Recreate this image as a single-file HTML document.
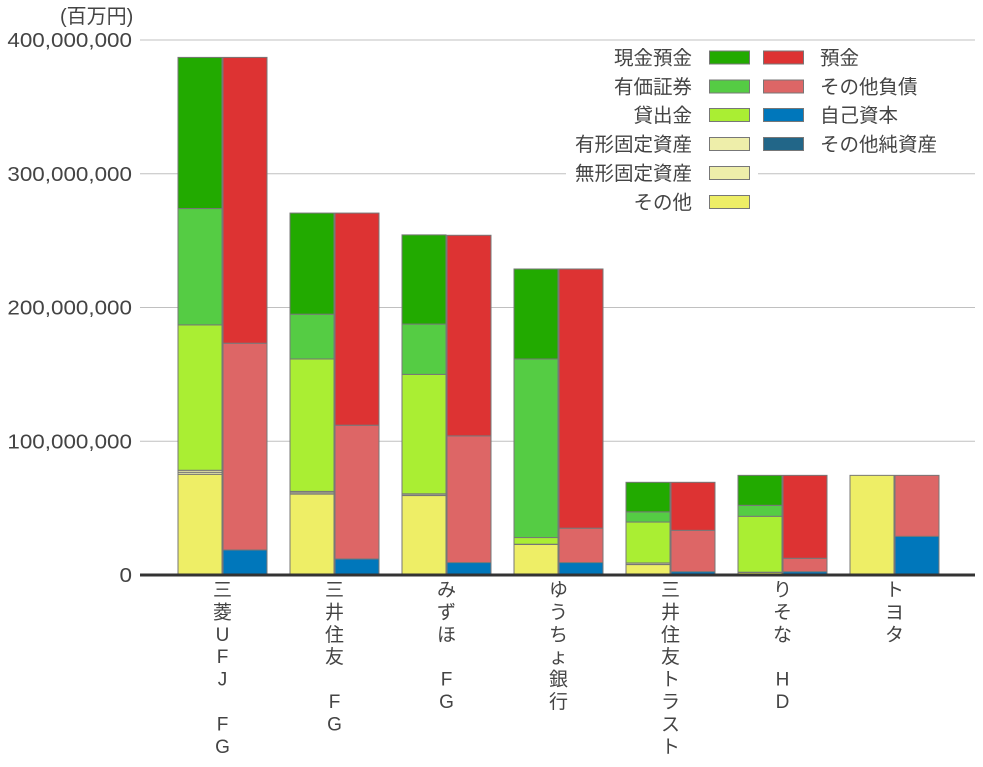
<!DOCTYPE html>
<html><head><meta charset="utf-8">
<style>
body{margin:0;background:#fff;}
svg text{font-family:"Liberation Sans","Noto Sans CJK JP",sans-serif;fill:#444;}
</style></head>
<body>
<svg id="chart" width="983" height="762" xmlns="http://www.w3.org/2000/svg"></svg>
<script>
const categories = ["三菱UFJ FG","三井住友 FG","みずほ FG","ゆうちょ銀行","三井住友トラスト","りそな HD","トヨタ"];
const assetNames = ["その他","無形固定資産","有形固定資産","貸出金","有価証券","現金預金"];
const liabNames = ["自己資本","その他純資産","その他負債","預金"];
// assets (millions of yen), bottom-up: other, intangible, tangible, loans, securities, cash
const assetOther = [75300,60500,59400,22800,7800,1900,74500];
const assetIntangible = [1500,1000,300,100,200,100,0];
const assetTangible = [1500,1000,1000,100,1000,100,0];
const assetLoans = [108700,99000,89300,5000,30600,41800,0];
const assetSecurities = [87000,33500,37600,133500,7600,8200,0];
const assetCash = [113000,75600,66700,67300,22100,22400,0];
// liabilities, bottom-up: equity, other net assets, other liabilities, deposits
const liabEquity = [18700,12000,9300,9300,2500,2500,28900];
const liabOtherNet = [0,0,0,0,0,0,0];
const liabOther = [154600,100000,94700,25700,30900,10000,45600];
const liabDeposits = [213700,158600,150000,193800,35900,62000,0];
const yTicks = [0,100000000,200000000,300000000,400000000];
const yTickLabels = ["0","100,000,000","200,000,000","300,000,000","400,000,000"];

const NS="http://www.w3.org/2000/svg";
const svg=document.getElementById('chart');
function mk(tag,attrs,parent){const e=document.createElementNS(NS,tag);for(const k in attrs)e.setAttribute(k,attrs[k]);(parent||svg).appendChild(e);return e;}
const x0=140,x1=975,yBase=575,yTop=40,yMax=400000;
function y(v){return yBase-(v/yMax)*(yBase-yTop);}
const groupW=112, firstCenter=222.5;
function gx(i){return firstCenter+groupW*i;}

yTicks.forEach((t,i)=>{
  const yy=y(t/1000);
  if(i>0){const g=mk('line',{x1:x0,x2:x1,y1:yy,y2:yy,stroke:'#c0c0c0','stroke-width':1});
  
  }
  const tx=mk('text',{x:132,y:yy+7,'text-anchor':'end','font-size':20});
  tx.textContent=yTickLabels[i];
  
  
  const w=tx.getComputedTextLength();
  if(w>0){tx.setAttribute('textLength',(w*1.12).toFixed(1));tx.setAttribute('lengthAdjust','spacingAndGlyphs');}
});
const unit=mk('text',{x:60,y:23,'font-size':20});
unit.textContent="(百万円)";



const aColors=['#eeee66','#eeeeaa','#eeeeaa','#aaee33','#55cc44','#22aa00'];
const lColors=['#0077bb','#226688','#dd6666','#dd3333'];
const aSeries=[assetOther,assetIntangible,assetTangible,assetLoans,assetSecurities,assetCash];
const lSeries=[liabEquity,liabOtherNet,liabOther,liabDeposits];
const bw=44;
categories.forEach((c,i)=>{
  const cx=gx(i);
  let acc=0;
  aSeries.forEach((s,k)=>{
    const v=s[i]; if(v<=0)return;
    const r=mk('rect',{x:cx-bw-0.5,y:y(acc+v),width:bw,height:y(acc)-y(acc+v),fill:aColors[k],stroke:'#777','stroke-width':1});
    
    
    acc+=v;
  });
  acc=0;
  lSeries.forEach((s,k)=>{
    const v=s[i]; if(v<=0)return;
    const r=mk('rect',{x:cx+0.5,y:y(acc+v),width:bw,height:y(acc)-y(acc+v),fill:lColors[k],stroke:'#777','stroke-width':1});
    
    
    acc+=v;
  });
  const chars=[...c];
  chars.forEach((ch,j)=>{
    if(ch===' ')return;
    const t=mk('text',{x:cx,y:596+j*22.4,'text-anchor':'middle','font-size':19});
    t.textContent=ch;
    
    
  });
});
const ax=mk('line',{x1:x0,x2:x1,y1:yBase,y2:yBase,stroke:'#333','stroke-width':3});



const leftLabels=["現金預金","有価証券","貸出金","有形固定資産","無形固定資産","その他"];
const leftCols=['#22aa00','#55cc44','#aaee33','#eeeeaa','#eeeeaa','#eeee66'];
const rightLabels=["預金","その他負債","自己資本","その他純資産"];
const rightCols=['#dd3333','#dd6666','#0077bb','#226688'];
const rowY=[57.5,86.5,115,144,173,202];
leftLabels.forEach((l,i)=>{
  mk('rect',{x:566,y:rowY[i]-12,width:192,height:24,fill:'#fff'});
  const t=mk('text',{x:692,y:rowY[i]+7,'text-anchor':'end','font-size':19.5});
  t.textContent=l;
  
  
  const r=mk('rect',{x:709.5,y:rowY[i]-6.5,width:40,height:13,fill:leftCols[i],stroke:'#777','stroke-width':1});
  
  
});
rightLabels.forEach((l,i)=>{
  mk('rect',{x:758,y:rowY[i]-12,width:190,height:24,fill:'#fff'});
  const r=mk('rect',{x:763.5,y:rowY[i]-6.5,width:40,height:13,fill:rightCols[i],stroke:'#777','stroke-width':1});
  
  
  const t=mk('text',{x:820,y:rowY[i]+7,'font-size':19.5});
  t.textContent=l;
  
  
});
</script>
</body></html>
